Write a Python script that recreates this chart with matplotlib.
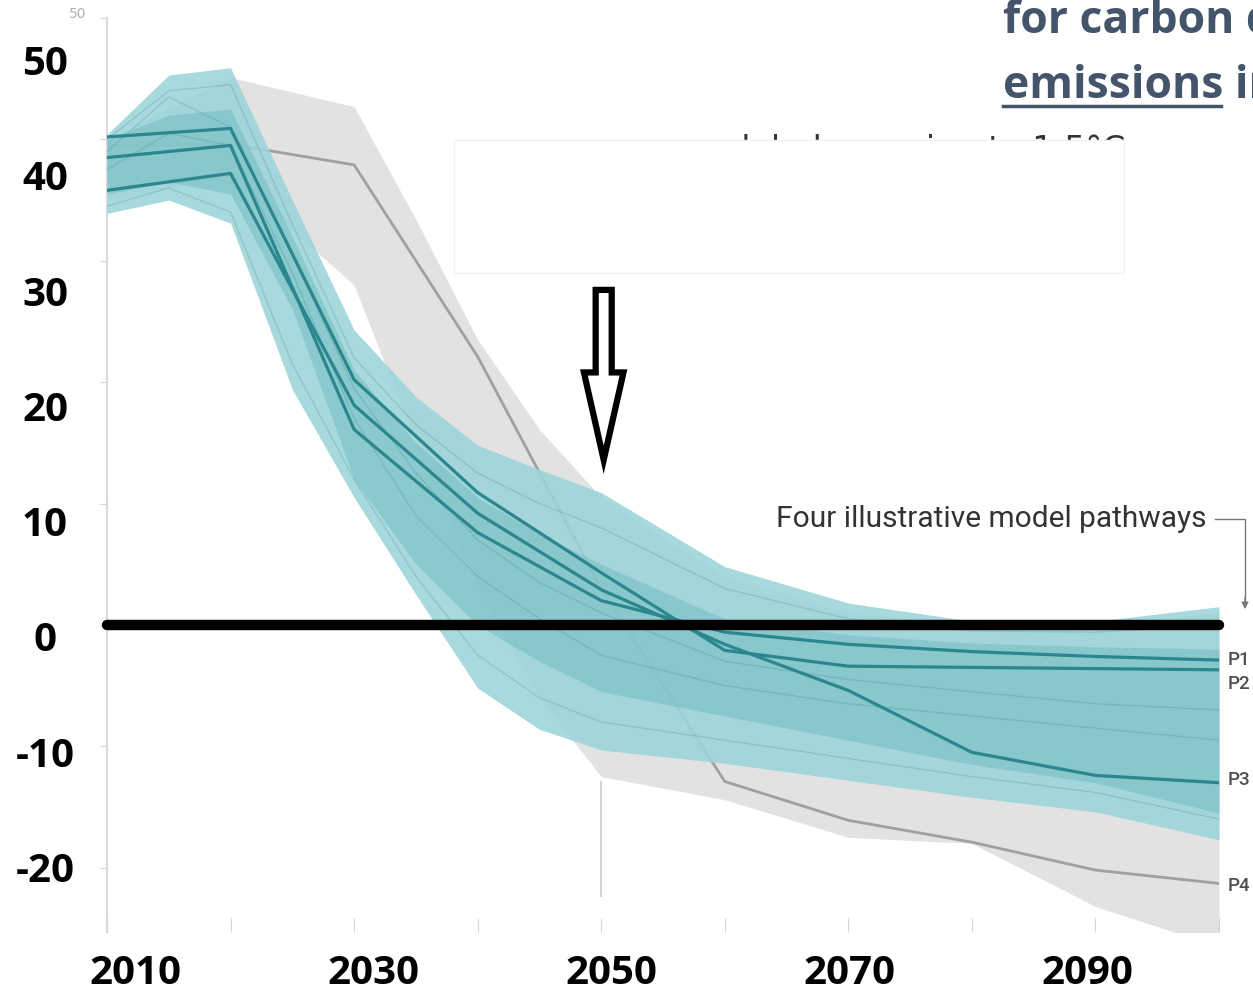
import matplotlib
matplotlib.use("Agg")
import matplotlib.pyplot as plt
import matplotlib.patches as mpatches
from matplotlib.lines import Line2D

W, H = 1253, 993

# illustrative pathways (Gt CO2 / yr)
path_years = [2010, 2020, 2030, 2040, 2050, 2060, 2070, 2080, 2090, 2100]
p1 = [38.5, 39.5, 16.1, 7.6, 2.0, -0.6, -1.6, -2.2, -2.6, -2.9]
p2 = [40.2, 40.9, 20.2, 10.9, 4.3, -2.1, -3.4, -3.5, -3.6, -3.7]
p3 = [35.8, 37.2, 18.1, 9.2, 2.9, -1.6, -5.4, -10.5, -12.4, -13.0]
p4 = [39.5, 39.6, 37.9, 22.1, 3.0, -12.9, -16.1, -17.9, -20.2, -21.3]

# 1.5C pathway range (teal)
band_years = [2010, 2015, 2020, 2025, 2030, 2035, 2040, 2045, 2050, 2060, 2070, 2080, 2090, 2100]
teal_hi = [40.4, 45.3, 45.9, 35.0, 24.3, 18.8, 14.8, 12.8, 10.9, 4.8, 1.8, 0.3, 0.3, 1.5]
teal_lo = [33.9, 35.0, 33.1, 19.4, 10.5, 2.5, -5.2, -8.6, -10.3, -11.4, -12.8, -14.2, -15.4, -17.7]
core_hi = [40.0, 42.0, 42.5, 32.0, 21.0, 15.0, 10.5, 7.5, 5.0, 0.5, -0.8, -1.5, -1.8, -2.0]
core_lo = [35.5, 36.5, 35.5, 26.0, 12.0, 5.0, 0.0, -3.0, -5.5, -7.5, -9.5, -11.5, -13.0, -15.5]

# a few individual model runs inside the teal range
strand_a = [40.0, 44.0, 44.5, 33.0, 22.0, 16.5, 12.5, 10.0, 8.0, 3.0, 0.5, -0.5, -0.6, 0.0]
strand_b = [39.0, 43.5, 41.0, 30.5, 19.5, 12.5, 7.0, 3.5, 1.0, -3.0, -4.5, -5.5, -6.5, -7.0]
strand_c = [37.5, 40.5, 39.5, 29.0, 17.0, 9.0, 4.0, 0.5, -2.5, -5.0, -6.5, -7.5, -8.5, -9.5]
strand_d = [34.5, 36.0, 34.0, 21.5, 12.0, 4.0, -2.5, -6.0, -8.0, -9.5, -11.0, -12.5, -13.8, -16.0]

# higher overshoot range (grey)
grey_years = [2010, 2020, 2030, 2035, 2040, 2045, 2050, 2060, 2070, 2080, 2090, 2100]
grey_hi = [40.0, 45.1, 42.7, 33.4, 23.5, 16.1, 10.5, 4.0, 1.0, 0.0, 0.0, 1.0]
grey_lo = [35.0, 37.0, 28.0, 15.0, 3.0, -6.0, -12.5, -14.4, -17.5, -18.0, -23.2, -26.5]

ytick_labels = [50, 40, 30, 20, 10, 0, -10, -20]
xtick_labels = [2010, 2030, 2050, 2070, 2090]
path_names = ["P1", "P2", "P3", "P4"]
path_label_y = [-2.9, -4.9, -12.8, -21.5]

TEAL_LIGHT = "#9bd4d9"
TEAL_CORE = "#6fbac0"
TEAL_LINE = "#2b878d"
GREY_BAND = "#e2e2e2"
GREY_LINE = "#a0a0a0"
TITLE = "#44546a"


def fx(x):
    return x / W


def fy(y):
    return 1 - y / H


fig = plt.figure(figsize=(W / 100, H / 100), dpi=100)

# underlying chart
ax = fig.add_axes([fx(107), fy(932), (1219 - 107) / W, (932 - 18) / H])
ax.set_xlim(2010, 2100)
ax.set_ylim(-25.3, 50)

ax.fill_between(grey_years, grey_lo, grey_hi, color=GREY_BAND, lw=0, zorder=1)
ax.plot(path_years, p4, color=GREY_LINE, lw=2, zorder=2)
ax.fill_between(band_years, teal_lo, teal_hi, color=TEAL_LIGHT, lw=0, alpha=0.88, zorder=3)
ax.fill_between(band_years, core_lo, core_hi, color=TEAL_CORE, lw=0, alpha=0.5, zorder=3)
for s in (strand_a, strand_b, strand_c, strand_d):
    ax.plot(band_years, s, color=TEAL_LINE, lw=1, alpha=0.22, zorder=3)

for p in (p1, p2, p3):
    ax.plot(path_years, p, color=TEAL_LINE, lw=2.3, zorder=4)

ax.vlines(2050, -22.4, -12.9, color="#d5d5d5", lw=1.5)
ax.axhline(0, color="black", lw=7.5, solid_capstyle="round", clip_on=False, zorder=5)

for spine in ("top", "right", "bottom"):
    ax.spines[spine].set_visible(False)
ax.spines["left"].set_color("#d9d9d9")
ax.spines["left"].set_linewidth(1.5)
ax.set_xticks(range(2010, 2101, 10))
ax.set_yticks(range(-20, 51, 10))
ax.tick_params(axis="x", direction="in", length=10, color="#d5d5d5", labelbottom=False)
ax.tick_params(axis="y", direction="out", length=5, color="#d5d5d5", labelleft=False)

# path labels at right edge
for name, yv in zip(path_names, path_label_y):
    ax.text(1.008, yv, name, transform=ax.get_yaxis_transform(), fontsize=13.5,
            color="#4f4f4f", va="center", ha="left", clip_on=False,
            family=["Roboto", "DejaVu Sans"], fontweight="medium")

# hollow arrow pointing down at 2050
arrow = mpatches.FancyArrow(2050.2, 27.6, 0, -14.0, width=1.3, head_width=3.2,
                            head_length=7.2, length_includes_head=True,
                            facecolor="white", edgecolor="black", lw=4.5, zorder=6)
ax.add_patch(arrow)

# annotation text and bracket
fig.text(fx(1207), fy(519), "Four illustrative model pathways", ha="right", va="center",
         fontsize=21.5, color="#333333", family=["Roboto", "DejaVu Sans"])
fig.add_artist(Line2D([fx(1215), fx(1245), fx(1245)], [fy(519), fy(519), fy(606)],
                      color="#777777", lw=1))
ax.annotate("", xy=(1245, H - 612), xytext=(1245, H - 595), xycoords="figure pixels",
            arrowprops=dict(arrowstyle="-|>", color="#777777", lw=1, mutation_scale=10))

# partially hidden caption behind white box
fig.text(fx(720), fy(160), "global warming to 1.5\u00b0C", fontsize=24, color="#333333",
         va="baseline", zorder=3)
fig.add_artist(mpatches.Rectangle((fx(454), fy(273)), (1124 - 454) / W, (273 - 140) / H,
                                  transform=fig.transFigure, facecolor="white",
                                  edgecolor="#f2f2f2", lw=1, zorder=4))

# small original tick label, mostly covered
fig.text(fx(78), fy(14), "50", fontsize=10, color="#b0b0b0", ha="center", va="center", zorder=3)
fig.add_artist(mpatches.Rectangle((0, 0), fx(100), fy(21), transform=fig.transFigure,
                                  facecolor="white", edgecolor="none", zorder=4))

# overlaid bold axis labels
lab = fig.add_axes(ax.get_position(), zorder=5)
lab.patch.set_visible(False)
lab.set_xlim(2007.65, 2101.09)
lab.set_ylim(-25.64, 53.64)
for s in lab.spines.values():
    s.set_visible(False)
lab.set_yticks(ytick_labels)
lab.set_yticklabels([str(v) for v in ytick_labels])
lab.set_xticks(xtick_labels)
lab.set_xticklabels([str(v) for v in xtick_labels])
lab.tick_params(length=0)
lab.tick_params(axis="y", pad=44.6)
lab.tick_params(axis="x", pad=16)
for t in lab.get_yticklabels():
    t.set_fontfamily(["Open Sans", "DejaVu Sans"])
    t.set_fontweight("bold")
    t.set_fontsize(29)
    t.set_horizontalalignment("center")
for t in lab.get_xticklabels():
    t.set_fontfamily(["Open Sans", "DejaVu Sans"])
    t.set_fontweight("bold")
    t.set_fontsize(29)

# slide title fragment (cut by the right edge, as in the slide)
fig.text(fx(1003), fy(33), "for carbon dioxide", fontsize=32, fontweight="bold",
         color=TITLE, va="baseline", family=["Open Sans", "DejaVu Sans"])
fig.text(fx(1003), fy(98), "emissions in 2050", fontsize=32, fontweight="bold",
         color=TITLE, va="baseline", family=["Open Sans", "DejaVu Sans"])
fig.add_artist(Line2D([fx(1003), fx(1221)], [fy(106), fy(106)], color=TITLE, lw=2.5))

fig.savefig("out.png", dpi=100)
